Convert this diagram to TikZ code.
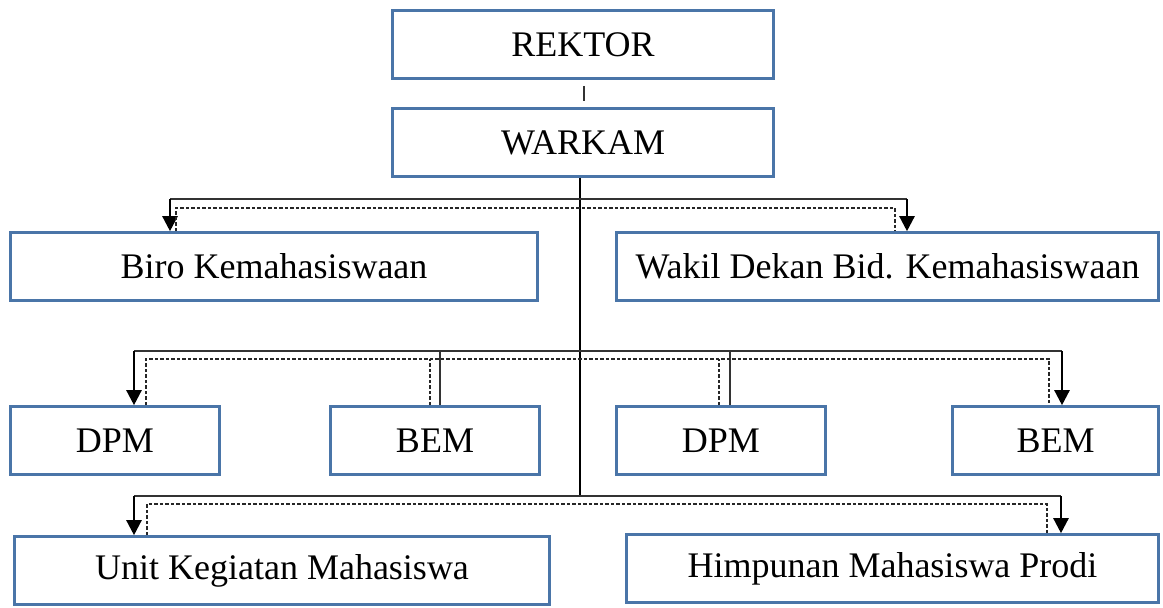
\documentclass[tikz,border=0pt]{standalone}
\usepackage{fontspec}
\setmainfont{Liberation Serif}
\usetikzlibrary{arrows.meta}
\definecolor{boxblue}{RGB}{74,117,168}

\begin{document}
\begin{tikzpicture}[
    x=1pt, y=-1pt,
    unit/.style={rectangle, draw=boxblue, line width=2.6pt, minimum height=68pt,
                 inner sep=0pt, align=center, font=\fontsize{36}{40}\selectfont},
    bus/.style={draw=black!80, line width=1.3pt},
    arr/.style={-{Triangle[width=15pt,length=15pt]}, line width=2.4pt},
    dline/.style={dash pattern=on 3.5pt off 2pt, line width=1.1pt, draw=black!85},
  ]
  \useasboundingbox (0,0) rectangle (1163,608);

  % === top ===
  \node[unit, minimum width=381pt] (rektor) at (583,44.5) {REKTOR};
  \node[unit, minimum width=381pt] (warkam) at (583,142.5) {WARKAM};

  % === units ===
  \node[unit, minimum width=527pt] (biro) at (274,266.5) {Biro Kemahasiswaan};
  \node[unit, minimum width=542pt] (wadek) at (887.5,266.5) {Wakil Dekan Bid. Kemahasiswaan};

  \node[unit, minimum width=209pt] (dpma) at (115,440.5) {DPM};
  \node[unit, minimum width=209pt] (bema) at (435,440.5) {BEM};
  \node[unit, minimum width=209pt] (dpmb) at (721,440.5) {DPM};
  \node[unit, minimum width=206pt] (bemb) at (1055.5,440.5) {BEM};

  \node[unit, minimum width=535pt] (ukm) at (282,570.5) {Unit Kegiatan Mahasiswa};
  \node[unit, minimum width=532pt] (hmp) at (892.5,568.5) {Himpunan Mahasiswa Prodi};

  % rektor -- warkam
  \draw[bus] ([xshift=1pt,yshift=-6pt]rektor.south) -- ([xshift=1pt,yshift=6pt]warkam.north);

  % trunk
  \coordinate (trunk) at (580,496);
  \draw[bus, draw=black, line width=1.1pt] (warkam.south -| trunk) -- (trunk);

  % === level 1 ===
  \coordinate (l1a) at (170,199);
  \coordinate (l1b) at (907,199);
  \draw[bus] (l1a) -- (l1b);
  \draw[arr] (l1a) -- (l1a |- biro.north);
  \draw[arr] (l1b) -- (l1b |- wadek.north);
  \coordinate (k1a) at (176,208);
  \coordinate (k1b) at (895,208);
  \draw[dline] (k1a |- biro.north) -- (k1a) -- (k1b) -- (k1b |- wadek.north);

  % === level 2 ===
  \coordinate (l2a) at (134,351);
  \coordinate (l2b) at (1062,351);
  \draw[bus] (l2a) -- (l2b);
  \draw[arr] (l2a) -- (l2a |- dpma.north);
  \draw[arr] (l2b) -- (l2b |- bemb.north);
  \draw[bus] ([xshift=5pt]bema.north) -- ([xshift=5pt]bema.north |- l2a);
  \draw[bus] ([xshift=9pt]dpmb.north) -- ([xshift=9pt]dpmb.north |- l2a);
  \coordinate (k2a) at (146,359);
  \coordinate (k2b) at (1049,359);
  \draw[dline] (k2a |- dpma.north) -- (k2a) -- (k2b) -- (k2b |- bemb.north);
  \draw[dline] ([xshift=-5pt]bema.north) -- ([xshift=-5pt]bema.north |- k2a);
  \draw[dline] ([xshift=-2pt]dpmb.north) -- ([xshift=-2pt]dpmb.north |- k2a);

  % === level 3 ===
  \coordinate (l3a) at (134,496);
  \coordinate (l3b) at (1061,496);
  \draw[bus] (l3a) -- (l3b);
  \draw[arr] (l3a) -- (l3a |- ukm.north);
  \draw[arr] (l3b) -- (l3b |- hmp.north);
  \coordinate (k3a) at (147,504);
  \coordinate (k3b) at (1047,504);
  \draw[dline] (k3a |- ukm.north) -- (k3a) -- (k3b) -- (k3b |- hmp.north);

\end{tikzpicture}
\end{document}
